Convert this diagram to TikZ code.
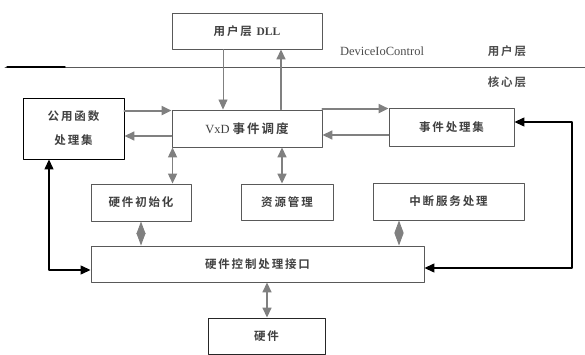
\documentclass[tikz,border=0pt]{standalone}
\usepackage{fontspec}
\setmainfont{Liberation Serif}
\newfontfamily\cjk[LetterSpace=16,BoldFont={Noto Sans CJK SC Bold}]{Noto Sans CJK SC}
\newcommand{\zh}[1]{{\cjk\bfseries #1}}
\usetikzlibrary{arrows.meta}
\begin{document}
\begin{tikzpicture}[x=1pt, y=-1pt, font=\fontsize{11.5}{14}\selectfont, line cap=round, line join=round,
	>={Triangle[length=10pt,width=9pt]},
	box/.style={draw=gray!70!black, line width=0.9pt, text=black!75, inner sep=0pt},
	link/.style={draw=black!50, fill=black!50, line width=1.6pt},
	fback/.style={draw=black, line width=1.3pt},
	diam/.style={draw=black!50, line width=1pt, {Triangle[length=12.5pt,width=9pt]}-{Triangle[length=12.5pt,width=9pt]}}]
	\useasboundingbox (0,0) rectangle (585,355);
	% layers
	\draw[gray!70!black, line width=0.8pt] (5,67)--(585,67);
	\draw[black, line width=1.4pt] (7,67)--(65,67);
	\node[text=black!70] (api) at (382,51) {\fontsize{12.5}{14}\selectfont DeviceIoControl};
	\node[text=black!70] (usr) at (507,51) {\zh{用户层}};
	\node[text=black!70] (krn) at (507,82) {\zh{核心层}};
	% boxes
	\node[box, minimum width=150, minimum height=36] (dll) at (247,31) {\zh{用户层} \textbf{DLL}};
	\node[box, minimum width=150, minimum height=37] (vxd) at (247,128.5) {\fontsize{12.5}{14}\selectfont VxD \zh{事件调度}};
	\node[box, draw=black, minimum width=101, minimum height=61, align=center] (pub) at (73.5,128.5) {\zh{公用函数}\\[10pt]\zh{处理集}};
	\node[box, minimum width=125, minimum height=38] (evt) at (451.5,127) {\zh{事件处理集}};
	\node[box, minimum width=100, minimum height=37] (init) at (141,202.5) {\zh{硬件初始化}};
	\node[box, minimum width=92, minimum height=36] (res) at (287,202) {\zh{资源管理}};
	\node[box, minimum width=151, minimum height=37] (isr) at (448.5,201.5) {\zh{中断服务处理}};
	\node[box, minimum width=333, minimum height=36] (hci) at (257.5,264) {\zh{硬件控制处理接口}};
	\node[box, draw=black!85, minimum width=117, minimum height=36] (hw) at (266.5,336) {\zh{硬件}};
	% user <-> kernel
	\draw[link, line width=0.8pt, ->] ([xshift=-24pt]dll.south)--([xshift=-24pt]dll.south |- vxd.north);
	\draw[link, ->] ([xshift=34pt]vxd.north)--([xshift=34pt]vxd.north |- dll.south);
	% dispatcher <-> side boxes
	\coordinate (pv) at ([yshift=-1pt]vxd.north west);
	\coordinate (ve) at ([yshift=-1pt]evt.north west);
	\draw[link, line width=2pt, ->] (pv -| pub.east)--(pv);
	\draw[link, ->] ([yshift=-7.5pt]vxd.west)--([yshift=-7.5pt]vxd.west -| pub.east);
	\draw[link, line width=2pt, ->] (ve -| vxd.east)--(ve);
	\draw[link, ->] ([yshift=-8pt]evt.west)--([yshift=-8pt]evt.west -| vxd.east);
	\draw[link, <->] ([xshift=1pt]vxd.south west)--([xshift=1pt]vxd.south west |- init.north);
	\draw[link, <->] ([xshift=35pt]vxd.south)--([xshift=35pt]vxd.south |- res.north);
	% lower level
	\draw[diam] (init.south)--(init.south |- hci.north);
	\draw[diam] ([xshift=-49.5pt]isr.south)--([xshift=-49.5pt]isr.south |- hci.north);
	\draw[link, <->] ([xshift=9.5pt]hci.south)--([xshift=9.5pt]hci.south |- hw.north);
	% feedback loops
	\coordinate (lc) at (49,270);
	\coordinate (rc) at (572,122);
	\draw[fback, <->] (pub.south west -| lc)--(lc)--(lc -| hci.west);
	\draw[fback, <->] (evt.east |- rc)--(rc)--(rc |- 0,268)--(hci.east |- 0,268);
\end{tikzpicture}
\end{document}
